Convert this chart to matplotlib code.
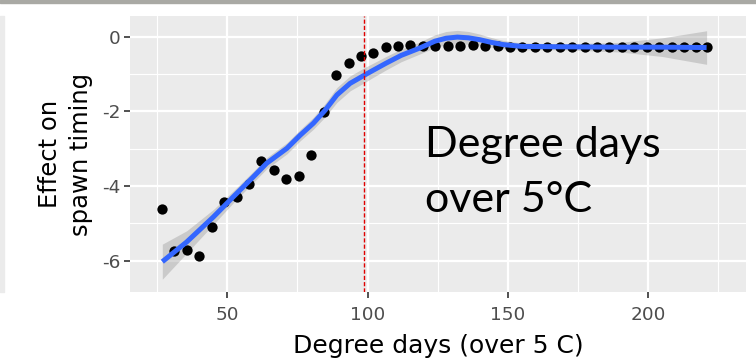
import numpy as np
import matplotlib
matplotlib.use("Agg")
import matplotlib.pyplot as plt
from matplotlib.patches import Rectangle

plt.rcParams["axes.unicode_minus"] = False
plt.rcParams["font.family"] = ["DejaVu Sans"]

# observed points (degree days, effect on spawn timing)
dd_x = [26.7, 31.2, 35.6, 40.0, 44.5, 48.9, 53.4, 57.8, 62.2, 66.7,
        71.1, 75.5, 80.0, 84.4, 88.9, 93.3, 97.6, 102.0, 106.5, 110.9,
        115.3, 119.8, 124.2, 128.6, 133.1, 137.5, 141.9, 146.4, 150.8, 155.2,
        159.6, 164.1, 168.5, 172.9, 177.4, 181.8, 186.2, 190.7, 195.1, 199.5,
        203.9, 208.4, 212.8, 217.2, 220.8]
effect = [-4.61, -5.74, -5.72, -5.89, -5.11, -4.42, -4.30, -3.95, -3.34, -3.56,
          -3.80, -3.74, -3.17, -2.02, -1.03, -0.70, -0.51, -0.43, -0.27, -0.24,
          -0.22, -0.25, -0.25, -0.25, -0.24, -0.23, -0.24, -0.26, -0.27, -0.27,
          -0.27, -0.27, -0.27, -0.27, -0.27, -0.27, -0.27, -0.28, -0.28, -0.28,
          -0.28, -0.28, -0.28, -0.28, -0.28]

# smoothed fit and its confidence half-width
fit_x = [26.9, 35.6, 45.1, 52.2, 59.4, 64.1, 71.3, 76.0, 80.7, 84.9,
         89.1, 93.8, 98.9, 102.0, 106.6, 112.0, 118.4, 124.0, 128.0, 132.0,
         136.0, 140.0, 144.0, 148.3, 155.0, 170.0, 190.0, 205.0, 220.8]
fit_y = [-6.03, -5.50, -4.83, -4.29, -3.75, -3.39, -2.99, -2.64, -2.32, -1.97,
         -1.56, -1.25, -1.03, -0.90, -0.71, -0.50, -0.31, -0.12, -0.04, -0.01,
         -0.03, -0.08, -0.15, -0.21, -0.26, -0.27, -0.28, -0.28, -0.29]
fit_se = [0.47, 0.30, 0.20, 0.16, 0.15, 0.15, 0.15, 0.15, 0.16, 0.18,
          0.20, 0.20, 0.20, 0.19, 0.18, 0.17, 0.16, 0.17, 0.18, 0.18,
          0.17, 0.15, 0.13, 0.11, 0.09, 0.08, 0.13, 0.25, 0.45]

threshold = 98.7

fig = plt.figure(figsize=(7.56, 3.64), dpi=100)
ax = fig.add_axes([0.172, 0.198, 0.815, 0.758])
ax.set_facecolor("#EBEBEB")
for s in ax.spines.values():
    s.set_visible(False)

ax.set_xlim(15.4, 234.9)
ax.set_ylim(-6.84, 0.555)
ax.set_xticks([50, 100, 150, 200])
ax.set_xticks([25, 75, 125, 175, 225], minor=True)
ax.set_yticks([-6, -4, -2, 0])
ax.set_yticks([-5, -3, -1], minor=True)
ax.grid(which="major", color="white", linewidth=1.6)
ax.grid(which="minor", color="white", linewidth=0.8)
ax.set_axisbelow(True)
ax.tick_params(which="major", length=4, width=1.2, color="#333333",
               labelsize=13.3, labelcolor="#4D4D4D")
ax.tick_params(axis="x", pad=6)
ax.tick_params(axis="y", pad=3)
ax.tick_params(which="minor", length=0)

fx = np.array(fit_x)
fy = np.array(fit_y)
fs = np.array(fit_se)
ax.fill_between(fx, fy - fs, fy + fs, color="#999999", alpha=0.4,
                linewidth=0, zorder=2)
ax.scatter(dd_x, effect, s=55, color="black", zorder=3, linewidths=0)
ax.plot(fx, fy, color="#3366FF", linewidth=3.6, zorder=4,
        solid_capstyle="butt")
ax.axvline(threshold, color="#E00000", linestyle=(0, (3, 1.5)),
           linewidth=1.0, zorder=5)

ax.text(120.5, -2.40, "Degree days\nover 5\u00b0C", family="Lato",
        fontsize=31, va="top", ha="left", linespacing=1.55, color="black")

ax.set_xlabel("Degree days (over 5 C)", fontsize=18, labelpad=7)
ax.set_ylabel("Effect on\nspawn timing", fontsize=17.5, labelpad=6,
              linespacing=1.4)

# bits of the surrounding slide
fig.patches.append(Rectangle((0, 1 - 3 / 364), 1, 3 / 364,
                             transform=fig.transFigure, color="#A9A9A4"))
fig.patches.append(Rectangle((0, 1 - 292 / 364), 4 / 756, 276 / 364,
                             transform=fig.transFigure, color="#EBEBEB"))

fig.savefig("out.png", dpi=100)
